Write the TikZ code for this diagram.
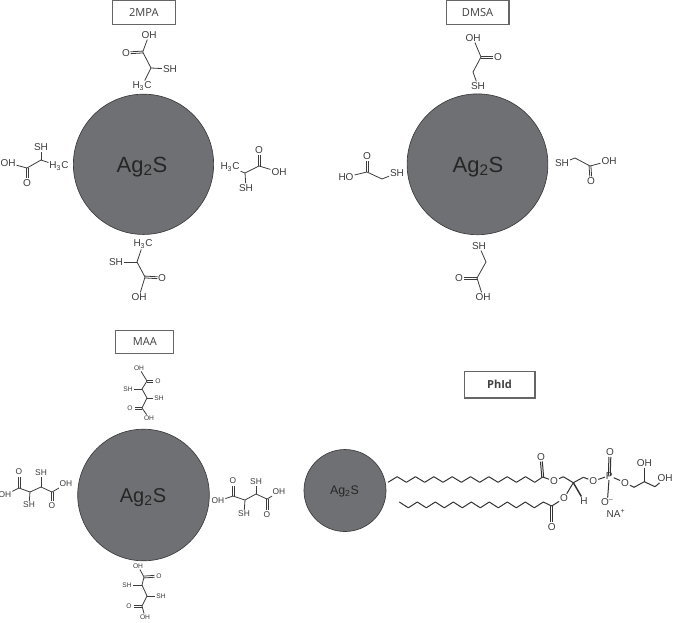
\documentclass[tikz,border=0pt]{standalone}
\usepackage{fontspec}
\setmainfont{Liberation Sans}
\newfontfamily\boxfont{Open Sans}
\usetikzlibrary{positioning}
\usetikzlibrary{calc}
\definecolor{qdgray}{RGB}{111,112,115}
\definecolor{inkgray}{RGB}{60,60,62}
\tikzstyle{qdot}=[circle,draw=inkgray,line width=0.5pt,fill=qdgray,inner sep=0pt]
\tikzstyle{qdtext}=[inner sep=0pt,text=black!85]
\tikzstyle{capbox}=[draw=black!60,line width=0.8pt,fill=white,inner sep=0pt,text=black!75,font=\boxfont\fontsize{8.3}{10}\selectfont]
\tikzstyle{atomlab}=[inner sep=0.6pt,text=inkgray,font=\fontsize{7.5}{9}\selectfont]
\tikzstyle{atommid}=[atomlab,font=\fontsize{6.3}{8}\selectfont]
\tikzstyle{atomsmall}=[atomlab,font=\fontsize{5}{6}\selectfont]
\tikzstyle{bond}=[draw=inkgray,line width=0.6pt]
\tikzstyle{lipid}=[draw=black!80,line width=0.75pt,line join=round]
\newcommand{\agtwos}{Ag\textsubscript{2}S}
% two parallel strokes from carbon #2 to oxygen #3, #1 is the stroke style
\newcommand{\dblink}[3][bond]{
  \draw[#1,shorten >=3.4pt] ($(#2)!0.7pt!90:(#3)$) -- ($(#3)!0.7pt!-90:(#2)$);
  \draw[#1,shorten >=3.4pt] ($(#2)!0.7pt!-90:(#3)$) -- ($(#3)!0.7pt!90:(#2)$);
}
\begin{document}
\begin{tikzpicture}[x=0.75pt,y=-0.75pt]
  \useasboundingbox (0,0) rectangle (674,622);

  % 2MPA
  \node[capbox,minimum width=47.2pt,minimum height=18pt] (capmpa) at (143.8,12.7) {2MPA};
  \node[qdot,minimum size=105.2pt] (dotmpa) at (143.5,164.3) {};
  \node[qdtext,font=\fontsize{16.5}{18}\selectfont] (agmpa) at (142,167) {\agtwos};

  \node[atomlab] (paoh) at (149,35) {OH};
  \node[atomlab] (pao) at (126,53) {O};
  \node[atomlab] (pash) at (170,69) {SH};
  \node[atomlab] (pame) at (142,86) {H\textsubscript{3}C};
  \coordinate (pac1) at (142.7,52);
  \coordinate (pac2) at (151,68);

  \node[atomlab] (pboh) at (8,163) {OH};
  \node[atomlab] (pbo) at (27,183) {O};
  \node[atomlab] (pbsh) at (41,147) {SH};
  \node[atomlab] (pbme) at (59,166) {H\textsubscript{3}C};
  \coordinate (pbc1) at (27,168);
  \coordinate (pbc2) at (41,160);

  \node[atomlab] (pcoh) at (279,172) {OH};
  \node[atomlab] (pco) at (259,150) {O};
  \node[atomlab] (pcsh) at (246,188) {SH};
  \node[atomlab] (pcme) at (230,167) {H\textsubscript{3}C};
  \coordinate (pcc1) at (259,166);
  \coordinate (pcc2) at (245,173);

  \node[atomlab] (pdoh) at (139,297) {OH};
  \node[atomlab] (pdo) at (162,278) {O};
  \node[atomlab] (pdsh) at (116,262) {SH};
  \node[atomlab] (pdme) at (143,244) {H\textsubscript{3}C};
  \coordinate (pdc1) at (145,277);
  \coordinate (pdc2) at (137,262);

  \foreach \p in {pa,pb,pc,pd}{
    \draw[bond] (\p oh) -- (\p c1);
    \dblink{\p c1}{\p o}
    \draw[bond] (\p c1) -- (\p c2);
    \draw[bond] (\p c2) -- (\p sh);
    \draw[bond] (\p c2) -- (\p me);
  }

  % DMSA
  \node[capbox,minimum width=47.2pt,minimum height=18pt] (capdmsa) at (477.5,12.7) {DMSA};
  \node[qdot,minimum size=105.6pt] (dotdmsa) at (477.5,164.3) {};
  \node[qdtext,font=\fontsize{16.5}{18}\selectfont] (agdmsa) at (478,167) {\agtwos};

  \node[atomlab] (daoh) at (473,38) {OH};
  \node[atomlab] (dao) at (498,57) {O};
  \node[atomlab] (dash) at (478,86) {SH};
  \coordinate (dac1) at (481,57);
  \coordinate (dac2) at (473,72);

  \node[atomlab] (dboh) at (346,177) {HO};
  \node[atomlab] (dbo) at (367,156) {O};
  \node[atomlab] (dbsh) at (397,173) {SH};
  \coordinate (dbc1) at (367,172);
  \coordinate (dbc2) at (382,179);

  \node[atomlab] (dcoh) at (609,161) {OH};
  \node[atomlab] (dco) at (591,181) {O};
  \node[atomlab] (dcsh) at (562,163) {SH};
  \coordinate (dcc1) at (590,166);
  \coordinate (dcc2) at (575,158);

  \node[atomlab] (ddoh) at (483,297) {OH};
  \node[atomlab] (ddo) at (459,278) {O};
  \node[atomlab] (ddsh) at (479,246) {SH};
  \coordinate (ddc1) at (477,278);
  \coordinate (ddc2) at (486,262);

  \foreach \p in {da,db,dc,dd}{
    \draw[bond] (\p oh) -- (\p c1);
    \dblink{\p c1}{\p o}
    \draw[bond] (\p c1) -- (\p c2);
    \draw[bond] (\p c2) -- (\p sh);
  }

  % MAA
  \node[capbox,minimum width=43.7pt,minimum height=17pt] (capmaa) at (144.8,342) {MAA};
  \node[qdot,minimum size=98.7pt] (dotmaa) at (143.5,495) {};
  \node[qdtext,font=\fontsize{15}{17}\selectfont] (agmaa) at (143,497.5) {\agtwos};

  \node[atomsmall] (maoh) at (139,368) {OH};
  \node[atomsmall] (mao) at (158,381) {O};
  \node[atomsmall] (mash) at (128,389) {SH};
  \node[atomsmall] (matsh) at (159,398) {SH};
  \node[atomsmall] (matoo) at (130,408) {O};
  \node[atomsmall] (matoh) at (149,418) {OH};
  \coordinate (mac1) at (147,381);
  \coordinate (mac2) at (142,389);
  \coordinate (mac3) at (147,398);
  \coordinate (mac4) at (142,408);

  \node[atommid] (mboh) at (5,495) {OH};
  \node[atommid] (mbo) at (19,472) {O};
  \node[atommid] (mbsh) at (29,505) {SH};
  \node[atommid] (mbtsh) at (41,473) {SH};
  \node[atommid] (mbtoo) at (52,506) {O};
  \node[atommid] (mbtoh) at (66,484) {OH};
  \coordinate (mbc1) at (19,488);
  \coordinate (mbc2) at (30,492);
  \coordinate (mbc3) at (41,487);
  \coordinate (mbc4) at (52,492);

  \node[atommid] (mcoh) at (218,501) {OH};
  \node[atommid] (mco) at (233,481) {O};
  \node[atommid] (mcsh) at (244,514) {SH};
  \node[atommid] (mctsh) at (256,482) {SH};
  \node[atommid] (mctoo) at (267,515) {O};
  \node[atommid] (mctoh) at (279,492) {OH};
  \coordinate (mcc1) at (233,496);
  \coordinate (mcc2) at (245,500);
  \coordinate (mcc3) at (256,494);
  \coordinate (mcc4) at (267,499);

  \node[atomsmall] (mdoh) at (138,566) {OH};
  \node[atomsmall] (mdo) at (159,576) {O};
  \node[atomsmall] (mdsh) at (127,585) {SH};
  \node[atomsmall] (mdtsh) at (161,596) {SH};
  \node[atomsmall] (mdtoo) at (129,606) {O};
  \node[atomsmall] (mdtoh) at (145,617) {OH};
  \coordinate (mdc1) at (144,577);
  \coordinate (mdc2) at (142,585);
  \coordinate (mdc3) at (147,596);
  \coordinate (mdc4) at (142,606);

  \foreach \p in {ma,mb,mc,md}{
    \draw[bond] (\p oh) -- (\p c1);
    \dblink{\p c1}{\p o}
    \draw[bond] (\p c1) -- (\p c2);
    \draw[bond] (\p c2) -- (\p sh);
    \draw[bond] (\p c2) -- (\p c3);
    \draw[bond] (\p c3) -- (\p tsh);
    \draw[bond] (\p c3) -- (\p c4);
    \dblink{\p c4}{\p too}
    \draw[bond] (\p c4) -- (\p toh);
  }

  % PhId
  \node[capbox,minimum width=53.2pt,minimum height=20.2pt,font=\boxfont\bfseries\fontsize{8.3}{10}\selectfont] (capphid) at (499.5,384.5) {PhId};
  \node[qdot,minimum size=61.5pt] (dotphid) at (345,490.5) {};
  \node[qdtext,font=\fontsize{9.3}{11}\selectfont] (agphid) at (344.5,491.5) {\agtwos};

  \node[atomlab] (lo1) at (541,457) {O};
  \node[atomlab] (lo2) at (554,481) {O};
  \node[atomlab] (lo3) at (593.3,481) {O};
  \node[atomlab] (lp) at (609.3,475.7) {P};
  \node[atomlab] (lo4) at (610,452.3) {O};
  \node[atomlab] (lo5) at (607.3,502.3) {O\textsuperscript{--}};
  \node[atomlab] (lo6) at (625,482.7) {O};
  \node[atomlab] (loh1) at (644.3,463.3) {OH};
  \node[atomlab] (loh2) at (665,478.3) {OH};
  \node[atomlab] (lna) at (616,513) {NA\textsuperscript{+}};
  \node[atomlab] (lh) at (584,501) {H};
  \node[atomlab] (lo7) at (564,498.3) {O};
  \node[atomlab] (lo8) at (551.7,526.7) {O};

  \coordinate (cha) at (388,482.3);
  \coordinate (chb) at (399.3,502);
  \coordinate (lc1) at (542.7,477);
  \coordinate (lc2) at (563.3,476.7);
  \coordinate (lc3) at (573.3,482.7);
  \coordinate (lc4) at (583.3,477.3);
  \coordinate (lc5) at (634,487.3);
  \coordinate (lc6) at (644.3,481.7);
  \coordinate (lc7) at (655,486.7);
  \coordinate (lc8) at (551.7,506);

  \draw[lipid] (cha) foreach \i in {1,...,16}{ -- ++(9.17,{5.6*(1-2*mod(\i,2))}) } -- (lc1);
  \draw[lipid] (chb) foreach \i in {1,...,16}{ -- ++(9,{5.8*(2*mod(\i,2)-1)}) } -- (lc8);
  \dblink[lipid]{lc1}{lo1}
  \dblink[lipid]{lc8}{lo8}
  \dblink[lipid]{lp}{lo4}
  \draw[lipid] (lc1) -- (lo2);
  \draw[lipid] (lo2) -- (lc2);
  \draw[lipid] (lc2) -- (lc3);
  \draw[lipid] (lc3) -- (lc4);
  \draw[lipid] (lc4) -- (lo3);
  \draw[lipid] (lo3) -- (lp);
  \draw[lipid] (lp) -- (lo5);
  \draw[lipid] (lp) -- (lo6);
  \draw[lipid] (lo6) -- (lc5);
  \draw[lipid] (lc5) -- (lc6);
  \draw[lipid] (lc6) -- (lc7);
  \draw[lipid] (lc6) -- (loh1);
  \draw[lipid] (lc7) -- (loh2);
  \draw[lipid] (lc8) -- (lo7);
  \draw[lipid] (lo7) -- (lc3);
  \draw[lipid,line width=1.1pt] (lc3) -- (lh);
\end{tikzpicture}
\end{document}
